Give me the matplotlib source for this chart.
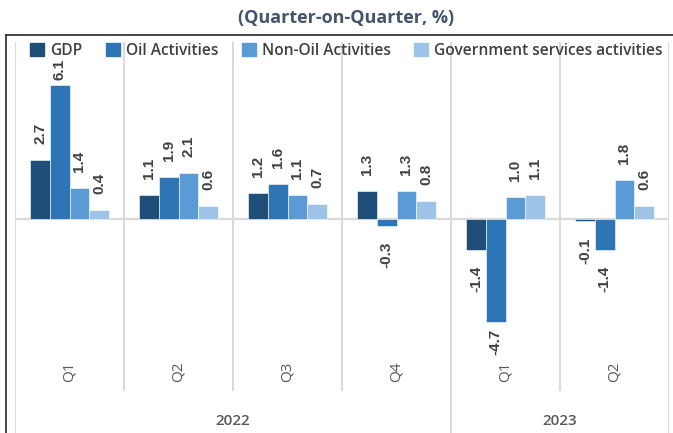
import matplotlib
matplotlib.use("Agg")
import matplotlib.pyplot as plt
from matplotlib.lines import Line2D
from matplotlib.patches import Patch
import numpy as np

quarters = ["Q1", "Q2", "Q3", "Q4", "Q1", "Q2"]
years = ["2022", "2023"]
year_counts = [4, 2]
series_names = ["GDP", "Oil Activities", "Non-Oil Activities", "Government services activities"]
gdp = [2.7, 1.1, 1.2, 1.3, -1.4, -0.1]
oil = [6.1, 1.9, 1.6, -0.3, -4.7, -1.4]
non_oil = [1.4, 2.1, 1.1, 1.3, 1.0, 1.8]
gov = [0.4, 0.6, 0.7, 0.8, 1.1, 0.6]
colors = ["#1F4E79", "#2E75B6", "#5B9BD5", "#9DC3E6"]

W, H = 673, 433
fig = plt.figure(figsize=(W / 100, H / 100), dpi=100)

def fx(px):
    return px / W

def fy(py):
    return 1 - py / H

ax_left, ax_right, ax_top, ax_bottom = 15, 669, 42, 433
ax = fig.add_axes([fx(ax_left), fy(ax_bottom), fx(ax_right - ax_left), (ax_bottom - ax_top) / H])
zero_px = 219
scale = 21.9
ax.set_ylim(-(ax_bottom - zero_px) / scale, (zero_px - ax_top) / scale)
ax.set_xlim(-0.5, len(quarters) - 0.5)
ax.axis("off")

grid_c = "#D9D9D9"
ax.axhline(0, color=grid_c, lw=1.6, zorder=1)
label_bottom_frac = (ax_bottom - 390) / (ax_bottom - ax_top)
n = len(quarters)
year_edges = np.cumsum([0] + year_counts) - 0.5
for b in np.arange(-0.5, n, 1.0):
    if any(abs(b - e) < 1e-9 for e in year_edges):
        ax.axvline(b, ymin=0, ymax=1, color=grid_c, lw=1.4, zorder=1)
    else:
        ax.axvline(b, ymin=label_bottom_frac, ymax=1, color=grid_c, lw=1.4, zorder=1)

series = [gdp, oil, non_oil, gov]
x = np.arange(n)
bw = 0.18
label_len_px = 21
min_top_px = 59
max_bottom_px = 355
handles = []
for i, (vals, c, name) in enumerate(zip(series, colors, series_names)):
    pos = x + (i - 1.5) * bw
    ax.bar(pos, vals, width=bw, color=c, edgecolor="white", linewidth=0.4, zorder=2)
    handles.append(Patch(facecolor=c, edgecolor=c, label=name))
    for xp, v, in zip(pos, vals):
        lab_len = label_len_px + (5 if v < 0 else 0)
        if v >= 0:
            bar_top_px = zero_px - v * scale
            off_px = min(16, bar_top_px - min_top_px - lab_len)
            ax.annotate(f"{v:.1f}", (xp, v), xytext=(0, off_px * 0.72), textcoords="offset points",
                        rotation=90, ha="center", va="bottom", fontsize=11,
                        fontweight="bold", color="#404040", family="Liberation Sans")
        else:
            bar_bot_px = zero_px - v * scale
            off_px = min(16, max_bottom_px - bar_bot_px - lab_len)
            ax.annotate(f"{v:.1f}", (xp, v), xytext=(0, -off_px * 0.72), textcoords="offset points",
                        rotation=90, ha="center", va="top", fontsize=11,
                        fontweight="bold", color="#404040", family="Liberation Sans")

for xi, q in zip(x, quarters):
    fig.text(fx(ax_left + (xi + 0.5) * 109), fy(372), q, rotation=90, ha="center", va="center",
             fontsize=11, color="#595959", family="Open Sans")
for y, s, e in zip(years, year_edges[:-1], year_edges[1:]):
    cx = ax_left + ((s + e) / 2 + 0.5) * 109
    fig.text(fx(cx), fy(421), y, ha="center", va="center", fontsize=11,
             color="#595959", family="Open Sans", fontweight="semibold")

leg = ax.legend(handles=handles, loc="upper left",
                bbox_to_anchor=(14 / (ax_right - ax_left), 1.0), ncol=4,
                frameon=False, handlelength=0.9, handleheight=0.9, handletextpad=0.4,
                columnspacing=1.5, borderaxespad=0, borderpad=0.05,
                prop={"family": "Open Sans", "size": 11.2, "weight": "semibold"})
for t in leg.get_texts():
    t.set_color("#404040")

fig.text(fx(346), fy(18), "(Quarter-on-Quarter, %)", ha="center", va="center", fontsize=13,
         fontweight="bold", color="#44546A", family="Open Sans")

fig.add_artist(Line2D([fx(6), fx(6)], [fy(35), 0], color="#262626", lw=1.2))
fig.add_artist(Line2D([fx(6), 1], [fy(35), fy(35)], color="#262626", lw=1.2))

fig.savefig("out.png", dpi=100)
